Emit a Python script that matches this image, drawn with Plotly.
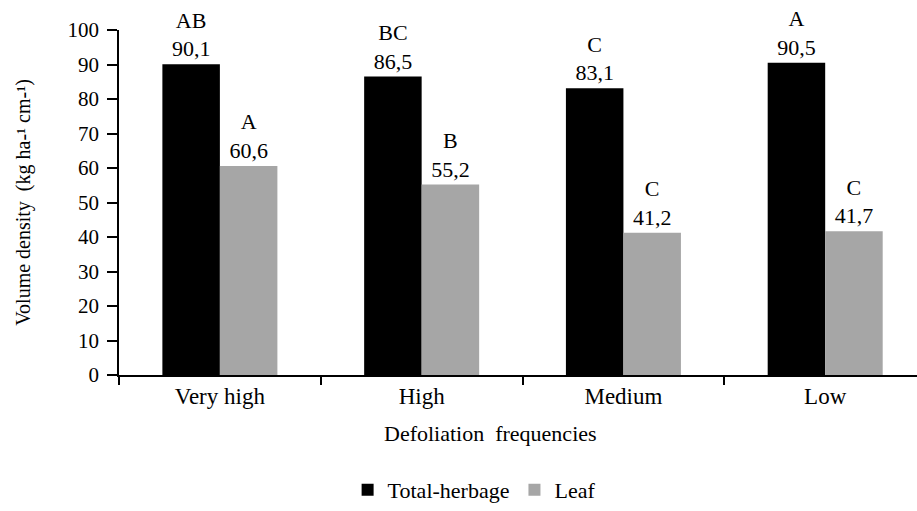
import plotly.graph_objects as go

categories = ["Very high", "High", "Medium", "Low"]
total_herbage = [90.1, 86.5, 83.1, 90.5]
leaf = [60.6, 55.2, 41.2, 41.7]
total_letters = ["AB", "BC", "C", "A"]
leaf_letters = ["A", "B", "C", "C"]

FONT = "Liberation Serif"


def labels(letters, values):
    return [f"{l}<br>{str(v).replace('.', ',')}" for l, v in zip(letters, values)]


fig = go.Figure()
fig.add_trace(go.Bar(
    name="Total-herbage", x=categories, y=total_herbage,
    marker=dict(color="#000000", line=dict(width=0)),
    text=labels(total_letters, total_herbage), textposition="outside",
    textfont=dict(family=FONT, size=22, color="black"), cliponaxis=False,
))
fig.add_trace(go.Bar(
    name="Leaf", x=categories, y=leaf,
    marker=dict(color="#A6A6A6", line=dict(width=0)),
    text=labels(leaf_letters, leaf), textposition="outside",
    textfont=dict(family=FONT, size=22, color="black"), cliponaxis=False,
))

fig.update_layout(
    width=917, height=511,
    margin=dict(l=119, r=0, t=30, b=135),
    paper_bgcolor="white", plot_bgcolor="white",
    barmode="group", bargap=0.43, bargroupgap=0,
    font=dict(family=FONT, color="black"),
    showlegend=True,
    legend=dict(orientation="h", x=0.445, xanchor="center", y=-0.335, yanchor="middle",
                font=dict(family=FONT, size=22), itemwidth=30, traceorder="normal"),
)
fig.update_xaxes(
    range=[-0.5, 3.455], showline=True, linecolor="black", linewidth=1.5,
    ticks="outside", tickson="boundaries", ticklen=8, tickwidth=1.5, tickcolor="black",
    tickfont=dict(family=FONT, size=23), showgrid=False, zeroline=False,
)
fig.update_yaxes(
    range=[0, 100], dtick=10, showline=True, linecolor="black", linewidth=1.5,
    ticks="outside", ticklen=10, tickwidth=1.5, tickcolor="black",
    tickfont=dict(family=FONT, size=21), showgrid=False, zeroline=False,
    ticklabelstandoff=4,
    title=dict(text="Volume density  (kg ha-¹ cm-¹)", font=dict(family=FONT, size=20), standoff=32),
)
fig.add_annotation(
    text="Defoliation  frequencies", xref="paper", yref="paper",
    x=0.465, y=-0.17, xanchor="center", yanchor="middle", showarrow=False,
    font=dict(family=FONT, size=22, color="black"),
)

fig.write_html("out.html")
